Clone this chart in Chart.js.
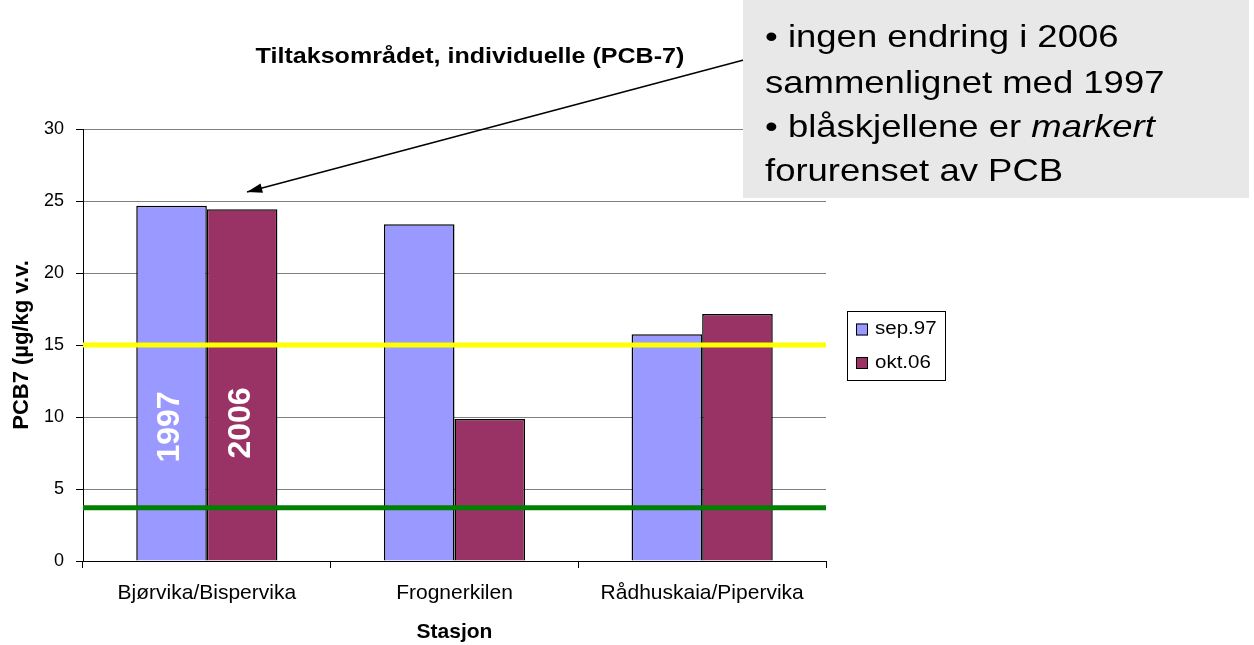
<!DOCTYPE html>
<html>
<head>
<meta charset="utf-8">
<script src="https://cdn.jsdelivr.net/npm/chart.js@4/dist/chart.umd.min.js"></script>
<style>
    body { margin: 0; background: #fff; }
    #wrap { width: 1254px; height: 645px; }
</style>
</head>
<body>
<div id="wrap"><canvas id="pcb"></canvas></div>
<script>
const stations = ["Bjørvika/Bispervika", "Frognerkilen", "Rådhuskaia/Pipervika"];
const sep97 = [24.67, 23.38, 15.74];
const okt06 = [24.42, 9.86, 17.15];
const seriesNames = ["sep.97", "okt.06"];
const seriesColors = ["#9999FF", "#993366"];
const limitValues = [15, 3.7];
const limitColors = ["#FFFF00", "#008000"];
const yearLabels = ["1997", "2006"];
const noteLines = ["• ingen endring i 2006", "sammenlignet med 1997", "• blåskjellene er ", "forurenset av PCB"];

const FONT = "'Liberation Sans', Arial, sans-serif";
const STRETCH = 1.14; // the original text is a bit wide

// draw text slightly stretched horizontally
function wideText(ctx, txt, x, y) {
    ctx.save();
    ctx.translate(x, y);
    ctx.scale(STRETCH, 1);
    ctx.fillText(txt, 0, 0);
    ctx.restore();
    return ctx.measureText(txt).width * STRETCH;
}

// extra drawing: limit lines, year labels, title, legend, note box + arrow
const extras = {
    id: 'extras',
    afterDatasetsDraw(chart) {
        const ctx = chart.ctx;
        const area = chart.chartArea;
        const y = chart.scales.y;
        ctx.save();
        limitValues.forEach((v, i) => {
            ctx.strokeStyle = limitColors[i];
            ctx.lineWidth = 5;
            ctx.beginPath();
            ctx.moveTo(area.left, y.getPixelForValue(v));
            ctx.lineTo(area.right, y.getPixelForValue(v));
            ctx.stroke();
        });
        // rotated year labels inside first group
        ctx.fillStyle = '#fff';
        ctx.font = 'bold 32px ' + FONT;
        ctx.textAlign = 'center';
        ctx.textBaseline = 'middle';
        [0, 1].forEach(d => {
            const bar = chart.getDatasetMeta(d).data[0];
            ctx.save();
            ctx.translate(bar.x - 1, d === 0 ? 427 : 423);
            ctx.rotate(-Math.PI / 2);
            ctx.fillText(yearLabels[d], 0, 0);
            ctx.restore();
        });
        ctx.restore();
    },
    afterDraw(chart) {
        const ctx = chart.ctx;
        ctx.save();

        // title
        ctx.fillStyle = '#000';
        ctx.font = 'bold 22px ' + FONT;
        ctx.textBaseline = 'middle';
        ctx.textAlign = 'left';
        const title = 'Tiltaksområdet, individuelle (PCB-7)';
        const tw = ctx.measureText(title).width * STRETCH;
        wideText(ctx, title, 470 - tw / 2, 57);

        // legend
        ctx.strokeStyle = '#000';
        ctx.lineWidth = 1;
        ctx.strokeRect(847.5, 311.5, 98, 69);
        ctx.font = '18px ' + FONT;
        seriesNames.forEach((n, i) => {
            const cy = 329.5 + i * 33.5;
            ctx.fillStyle = seriesColors[i];
            ctx.fillRect(856, cy - 6, 12, 12);
            ctx.strokeRect(856.5, cy - 5.5, 11, 11);
            ctx.fillStyle = '#000';
            wideText(ctx, n, 875, cy);
        });

        // arrow from note box to first group
        const ax = 770, ay = 53, bx = 247, by = 192;
        ctx.strokeStyle = '#000';
        ctx.lineWidth = 1.5;
        ctx.beginPath();
        ctx.moveTo(ax, ay);
        ctx.lineTo(bx, by);
        ctx.stroke();
        const ang = Math.atan2(by - ay, bx - ax);
        ctx.beginPath();
        ctx.moveTo(bx, by);
        ctx.lineTo(bx - 16 * Math.cos(ang - 0.3), by - 16 * Math.sin(ang - 0.3));
        ctx.lineTo(bx - 16 * Math.cos(ang + 0.3), by - 16 * Math.sin(ang + 0.3));
        ctx.closePath();
        ctx.fill();

        // note box
        ctx.fillStyle = '#E8E8E8';
        ctx.fillRect(743, 0, 506, 198);
        ctx.fillStyle = '#000';
        ctx.font = '32px ' + FONT;
        ctx.textBaseline = 'alphabetic';
        const x0 = 765;
        wideText(ctx, noteLines[0], x0, 47);
        wideText(ctx, noteLines[1], x0, 93);
        const w = wideText(ctx, noteLines[2], x0, 137);
        ctx.font = 'italic 32px ' + FONT;
        wideText(ctx, 'markert', x0 + w, 137);
        ctx.font = '32px ' + FONT;
        wideText(ctx, noteLines[3], x0, 181);
        ctx.restore();
    }
};

new Chart(document.getElementById('pcb'), {
    type: 'bar',
    data: {
        labels: stations,
        datasets: [
            {
                label: seriesNames[0],
                data: sep97,
                backgroundColor: seriesColors[0],
                borderColor: '#000',
                borderWidth: 1.5
            },
            {
                label: seriesNames[1],
                data: okt06,
                backgroundColor: seriesColors[1],
                borderColor: '#000',
                borderWidth: 1.5
            }
        ]
    },
    options: {
        responsive: true,
        maintainAspectRatio: false,
        animation: false,
        layout: {
            padding: { left: 0, right: 428, top: 129, bottom: 0 }
        },
        datasets: {
            bar: { categoryPercentage: 0.57, barPercentage: 1 }
        },
        plugins: {
            legend: { display: false },
            tooltip: { enabled: false },
            title: { display: false }
        },
        scales: {
            x: {
                grid: {
                    offset: true,
                    drawOnChartArea: false,
                    drawTicks: true,
                    tickLength: 7,
                    color: '#000'
                },
                border: { color: '#000', width: 1 },
                ticks: {
                    color: '#000',
                    font: { family: FONT, size: 21 },
                    padding: 13
                },
                title: {
                    display: true,
                    text: 'Stasjon',
                    color: '#000',
                    font: { family: FONT, size: 21, weight: 'bold' },
                    padding: { top: 0, bottom: 0 }
                },
                afterFit(scale) { scale.height = 84; }
            },
            y: {
                min: 0,
                max: 30,
                ticks: {
                    stepSize: 5,
                    color: '#000',
                    font: { family: FONT, size: 18 },
                    padding: 12
                },
                grid: {
                    color: '#808080',
                    tickLength: 7,
                    tickColor: '#000'
                },
                border: { color: '#000', width: 1 },
                title: {
                    display: true,
                    text: 'PCB7 (µg/kg v.v.',
                    color: '#000',
                    font: { family: FONT, size: 22, weight: 'bold' },
                    padding: { top: 9, bottom: 0 }
                },
                afterFit(scale) { scale.width = 83; }
            }
        }
    },
    plugins: [extras]
});
</script>
</body>
</html>
